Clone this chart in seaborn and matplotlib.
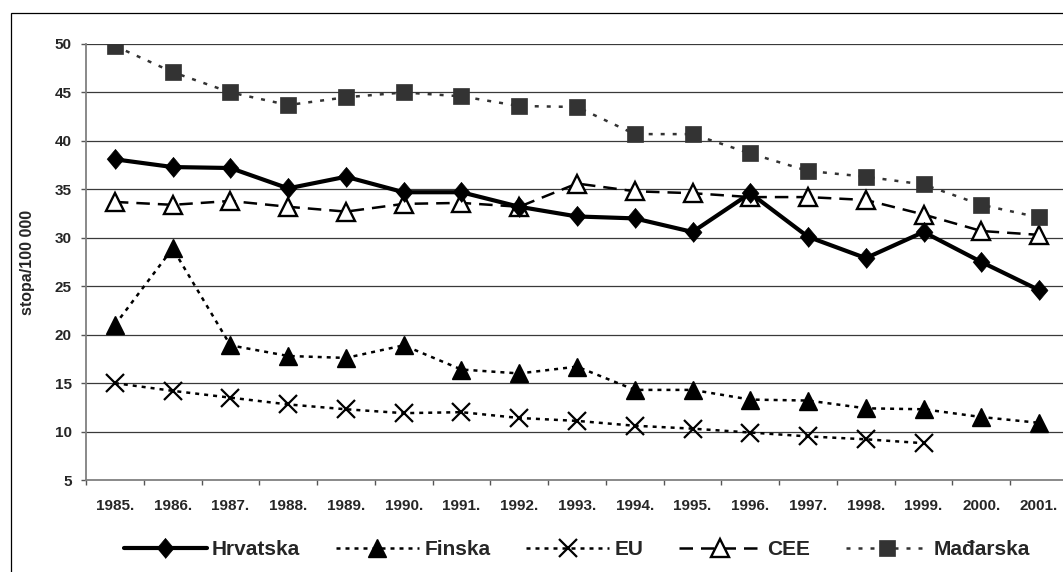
import numpy as np
import pandas as pd
import matplotlib
matplotlib.use('Agg')
import matplotlib.pyplot as plt
import matplotlib.patches as mpatches
import seaborn as sns

sns.set_style('white')
plt.rcParams['font.family'] = ['Liberation Sans', 'DejaVu Sans']
plt.rcParams['font.weight'] = 'bold'

# data
years = ['1985.', '1986.', '1987.', '1988.', '1989.', '1990.', '1991.', '1992.', '1993.',
         '1994.', '1995.', '1996.', '1997.', '1998.', '1999.', '2000.', '2001.']
hrvatska = [38.1, 37.3, 37.2, 35.1, 36.3, 34.7, 34.7, 33.2, 32.2, 32.0, 30.6, 34.6, 30.1, 27.9, 30.6, 27.5, 24.6]
finska = [21.0, 28.9, 18.9, 17.8, 17.6, 18.9, 16.4, 16.0, 16.7, 14.3, 14.3, 13.3, 13.2, 12.4, 12.3, 11.5, 10.9]
eu = [15.0, 14.2, 13.5, 12.8, 12.3, 11.9, 12.0, 11.4, 11.1, 10.6, 10.3, 9.9, 9.5, 9.2, 8.8, np.nan, np.nan]
cee = [33.7, 33.4, 33.8, 33.2, 32.7, 33.5, 33.6, 33.2, 35.6, 34.8, 34.6, 34.2, 34.2, 33.9, 32.4, 30.7, 30.3]
madarska = [49.8, 47.1, 45.0, 43.7, 44.5, 45.0, 44.6, 43.6, 43.5, 40.7, 40.7, 38.7, 36.9, 36.3, 35.5, 33.4, 32.1]
y_ticks = [5, 10, 15, 20, 25, 30, 35, 40, 45, 50]

df = pd.DataFrame({'year': years, 'Hrvatska': hrvatska, 'Finska': finska,
                   'EU': eu, 'CEE': cee, 'Mađarska': madarska})

fig = plt.figure(figsize=(10.63, 5.72), dpi=100)
ax = fig.add_axes([86 / 1063, 92 / 572, 982 / 1063, 436 / 572])

styles = {
    'EU': dict(color='black', linewidth=1.8, linestyle=(0, (1.6, 2.0)), marker='x',
               markersize=12.5, markeredgewidth=1.6, markeredgecolor='black', zorder=2),
    'Finska': dict(color='black', linewidth=1.8, linestyle=(0, (1.6, 2.0)), marker='^',
                   markersize=12.5, markeredgewidth=1, markeredgecolor='black',
                   markerfacecolor='black', zorder=3),
    'CEE': dict(color='black', linewidth=1.8, linestyle=(0, (5.4, 3.2)), marker='^',
                markersize=12.5, markeredgewidth=1.7, markeredgecolor='black',
                markerfacecolor='white', zorder=4),
    'Mađarska': dict(color='#333333', linewidth=1.8, linestyle=(0, (1.6, 3.2)), marker='s',
                     markersize=11, markeredgewidth=0.5, markeredgecolor='#333333',
                     markerfacecolor='#333333', zorder=5),
    'Hrvatska': dict(color='black', linewidth=3, linestyle='-',
                     marker=[(-0.42, 0), (0, 0.5), (0.42, 0), (0, -0.5)],
                     markersize=14.5, markeredgewidth=0.5, markeredgecolor='black',
                     markerfacecolor='black', zorder=6),
}

# invisible first pass fixes the category order on the x axis
sns.lineplot(data=df, x='year', y='Hrvatska', ax=ax, estimator=None, sort=False,
             label='_nolegend_', color='none', linewidth=0)
for name in ['EU', 'Finska', 'CEE', 'Mađarska', 'Hrvatska']:
    sns.lineplot(data=df, x='year', y=name, ax=ax, estimator=None, sort=False,
                 label=name, **styles[name])

ax.set_ylim(5, 50)
ax.set_xlim(-0.5, len(years) - 0.5)
ax.set_yticks(y_ticks)
ax.set_xlabel('')
ax.set_ylabel('stopa/100 000', fontsize=11.5, fontweight='bold')
ax.yaxis.set_label_coords(-0.052, 0.5)

# horizontal grid
for v in y_ticks[1:]:
    ax.axhline(v, color='#3a3a3a', linewidth=0.9, zorder=0)

ax.set_xticks(range(len(years)))
ax.set_xticklabels(years)
ax.set_xticks(np.arange(-0.5, len(years), 1.0), minor=True)
ax.tick_params(axis='x', which='major', length=0, pad=14, labelsize=11)
ax.tick_params(axis='x', which='minor', length=3.6, width=1, color='#555555', direction='out', bottom=True)
ax.tick_params(axis='y', which='major', length=3.6, width=1, color='#555555', direction='out',
               pad=6.5, labelsize=11, left=True)
for label in ax.get_xticklabels() + ax.get_yticklabels():
    label.set_fontweight('bold')

for side in ['top', 'right']:
    ax.spines[side].set_visible(False)
for side in ['left', 'bottom']:
    ax.spines[side].set_color('#808080')
    ax.spines[side].set_linewidth(1.3)

handles, labels = ax.get_legend_handles_labels()
lookup = dict(zip(labels, handles))
order = ['Hrvatska', 'Finska', 'EU', 'CEE', 'Mađarska']
ax.legend([lookup[k] for k in order], order, loc='center', bbox_to_anchor=(0.5, -0.16),
          ncol=5, frameon=False, handlelength=4, handletextpad=0.25, columnspacing=1.7,
          prop={'size': 15, 'weight': 'bold'})

# outer frame of the original chart area
fig.patches.append(mpatches.Rectangle((11 / 1063, -0.1), 2, 1 - 13 / 572 + 0.1,
                                      transform=fig.transFigure, fill=False,
                                      edgecolor='black', linewidth=0.9))

fig.savefig('out.png', dpi=100)
